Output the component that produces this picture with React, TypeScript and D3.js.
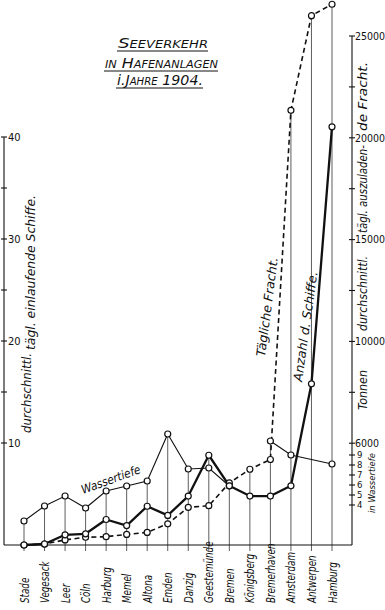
import React, { useEffect, useRef } from "react";
import * as d3 from "d3";

// ports, left to right
const categories = [
  "Stade", "Vegesack", "Leer", "Cöln", "Harburg", "Memel", "Altona", "Emden",
  "Danzig", "Geestemünde", "Bremen", "Königsberg", "Bremerhaven", "Amsterdam",
  "Antwerpen", "Hamburg",
];

// durchschnittl. tägl. einlaufende Schiffe (left axis)
const schiffe = [0, 0.1, 1.0, 1.1, 2.5, 1.9, 3.8, 2.9, 4.8, 8.8, 5.8, 4.8, 4.8, 5.8, 15.8, 41.0];

// tägl. auszuladende Fracht in Tonnen (right axis)
const fracht = [0, 50, 250, 380, 410, 520, 620, 1040, 1850, 1930, 3050, 3720, 4200, 21350, 26000, 26560];

// Wassertiefe in m (small scale on the right)
const wassertiefe: (number | null)[] = [2.4, 3.9, 4.9, 3.7, 5.4, 5.9, 6.4, 11.1, 7.6, 7.7, 5.9, null, 10.4, 9.0, null, 8.1];
const wasserBreakAfter = "Bremen";

const shipTicks = [10, 20, 30, 40];
const shipMinorTicks = [15, 25, 35];
const frachtTicks = [5000, 10000, 15000, 20000, 25000];
const frachtTickLabels = ["6000", "10000", "15000", "20000", "25000"];
const frachtMinorTicks = [7500, 12500, 17500, 22500];
const depthTicks = [4, 5, 6, 7, 8, 9];

const titleLines = ["Seeverkehr", "in Hafenanlagen", "i.Jahre 1904."];

const FONT = "'DejaVu Sans Condensed', 'DejaVu Sans', sans-serif";
const INK = "#111";

export default function App() {
  const ref = useRef<SVGSVGElement>(null);

  useEffect(() => {
    const svg = d3.select(ref.current);
    svg.selectAll("*").remove();

    const left = 4, right = 352, base = 545;

    const x = d3.scalePoint<string>().domain(categories).range([24, 332]);
    const yShips = d3.scaleLinear().domain([0, 40]).range([base, 137]);
    const yFracht = d3.scaleLinear().domain([0, 25000]).range([base, 36]);
    const yDepth = d3.scaleLinear().domain([0, 9]).range([base, 455]);

    svg.append("rect").attr("width", 385).attr("height", 610).attr("fill", "#fff");

    // title
    const title = svg.append("g").attr("font-family", FONT).attr("font-style", "italic").attr("fill", INK);
    const titleBox = [
      { x0: 118, x1: 208, y: 48 },
      { x0: 105, x1: 218, y: 68 },
      { x0: 117, x1: 203, y: 85 },
    ];
    titleLines.forEach((line, i) => {
      const b = titleBox[i];
      const t = title.append("text")
        .attr("x", b.x0).attr("y", b.y)
        .attr("font-size", 14)
        .attr("textLength", b.x1 - b.x0)
        .attr("lengthAdjust", "spacingAndGlyphs");
      if (line.startsWith("i.")) {
        t.append("tspan").text("i.");
        t.append("tspan").style("font-variant", "small-caps").text(line.slice(2));
      } else {
        t.style("font-variant", "small-caps").text(line);
      }
      title.append("line")
        .attr("x1", b.x0 - 1).attr("x2", b.x1)
        .attr("y1", b.y + 3).attr("y2", b.y + 3)
        .attr("stroke", INK).attr("stroke-width", 1);
    });

    // vertical lines per port, up to the highest point
    const tops = categories.map((c, i) => {
      const ys = [yShips(schiffe[i]), yFracht(fracht[i])];
      if (wassertiefe[i] != null) ys.push(yDepth(wassertiefe[i] as number));
      return d3.min(ys) as number;
    });
    svg.append("g")
      .selectAll("line")
      .data(categories)
      .enter()
      .append("line")
      .attr("x1", d => x(d)!).attr("x2", d => x(d)!)
      .attr("y1", base + 6)
      .attr("y2", (d, i) => tops[i])
      .attr("stroke", "#333").attr("stroke-width", 0.8);

    // axes
    const axes = svg.append("g").attr("stroke", INK).attr("stroke-width", 1.1);
    axes.append("line").attr("x1", left).attr("x2", right).attr("y1", base).attr("y2", base);
    axes.append("line").attr("x1", left).attr("x2", left).attr("y1", base).attr("y2", yShips(40));
    axes.append("line").attr("x1", right).attr("x2", right).attr("y1", base).attr("y2", yFracht(25000));

    const tickLines = (vals: number[], scale: d3.ScaleLinear<number, number>, cx: number) =>
      axes.append("g").selectAll("line").data(vals).enter().append("line")
        .attr("x1", cx - 3).attr("x2", cx + 3)
        .attr("y1", d => scale(d)).attr("y2", d => scale(d));
    tickLines(shipTicks, yShips, left);
    tickLines(shipMinorTicks, yShips, left);
    tickLines(frachtTicks, yFracht, right);
    tickLines(frachtMinorTicks, yFracht, right);
    tickLines(depthTicks, yDepth, right);

    const labels = svg.append("g").attr("font-family", FONT).attr("fill", INK);
    labels.append("g").selectAll("text").data(shipTicks).enter().append("text")
      .attr("x", left + 4).attr("y", d => yShips(d)).attr("dy", "0.36em")
      .attr("font-size", 11).text(d => d);
    labels.append("g").selectAll("text").data(frachtTicks).enter().append("text")
      .attr("x", right + 3).attr("y", d => yFracht(d)).attr("dy", "0.36em")
      .attr("font-size", 10.5).text((d, i) => frachtTickLabels[i]);
    labels.append("g").selectAll("text").data(depthTicks).enter().append("text")
      .attr("x", right + 5).attr("y", d => yDepth(d)).attr("dy", "0.36em")
      .attr("font-size", 9.5).text(d => d);

    // category labels, narrow hand lettering
    labels.append("g").selectAll("text").data(categories).enter().append("text")
      .attr("transform", d => `translate(${x(d)},603) rotate(-90) scale(0.78,1)`)
      .attr("dy", "0.36em")
      .attr("font-size", 12.5).attr("font-style", "italic")
      .text(d => d);

    // series
    const fLine = d3.line<number>().x((d, i) => x(categories[i])!).y(d => yFracht(d));
    svg.append("path").datum(fracht).attr("d", fLine)
      .attr("fill", "none").attr("stroke", INK).attr("stroke-width", 1.6)
      .attr("stroke-dasharray", "5,3.5");

    const breakIdx = categories.indexOf(wasserBreakAfter);
    const wPts = categories
      .map((c, i) => ({ c, i, v: wassertiefe[i] }))
      .filter(p => p.v != null);
    const wSegments = [wPts.filter(p => p.i <= breakIdx), wPts.filter(p => p.i > breakIdx)];
    const wLine = d3.line<{ c: string; v: number | null }>().x(p => x(p.c)!).y(p => yDepth(p.v as number));
    svg.append("g").selectAll("path").data(wSegments).enter().append("path")
      .attr("d", d => wLine(d))
      .attr("fill", "none").attr("stroke", INK).attr("stroke-width", 1.1);

    const sLine = d3.line<number>().x((d, i) => x(categories[i])!).y(d => yShips(d));
    svg.append("path").datum(schiffe).attr("d", sLine)
      .attr("fill", "none").attr("stroke", INK).attr("stroke-width", 2.3)
      .attr("stroke-linejoin", "round");

    // markers
    const dots = svg.append("g").attr("fill", "#fff").attr("stroke", INK).attr("stroke-width", 1.2);
    dots.selectAll(".f").data(fracht).enter().append("circle")
      .attr("cx", (d, i) => x(categories[i])!).attr("cy", d => yFracht(d)).attr("r", 3);
    dots.selectAll(".w").data(wPts).enter().append("circle")
      .attr("cx", p => x(p.c)!).attr("cy", p => yDepth(p.v as number)).attr("r", 3);
    dots.selectAll(".s").data(schiffe).enter().append("circle")
      .attr("cx", (d, i) => x(categories[i])!).attr("cy", d => yShips(d)).attr("r", 3);

    // rotated annotations
    const notes = [
      { t: "Wassertiefe", x: 83, y: 494, r: -20, len: 62, fs: 12 },
      { t: "Tägliche Fracht.", x: 265, y: 357, r: -82.6, len: 100, fs: 12.5 },
      { t: "Anzahl d. Schiffe.", x: 302, y: 382, r: -82, len: 111, fs: 12.5 },
      { t: "durchschnittl.", x: 31, y: 433, r: -90, len: 80, fs: 12 },
      { t: "tägl. einlaufende Schiffe.", x: 35, y: 350, r: -90, len: 155, fs: 12 },
      { t: "Tonnen", x: 367, y: 410, r: -90, len: 40, fs: 12 },
      { t: "durchschnittl.", x: 367, y: 331, r: -90, len: 75, fs: 12 },
      { t: "tägl. auszuladen-", x: 367, y: 233, r: -90, len: 88, fs: 12 },
      { t: "de Fracht.", x: 367, y: 131, r: -90, len: 69, fs: 12 },
      { t: "in Wassertiefe", x: 375, y: 513, r: -90, len: 60, fs: 9.5 },
    ];
    labels.append("g").selectAll("text").data(notes).enter().append("text")
      .attr("transform", d => `translate(${d.x},${d.y}) rotate(${d.r})`)
      .attr("font-size", d => d.fs).attr("font-style", "italic")
      .attr("textLength", d => d.len).attr("lengthAdjust", "spacingAndGlyphs")
      .text(d => d.t);
  }, []);

  return (
    <svg
      ref={ref}
      width={385}
      height={610}
      style={{ position: "absolute", left: 0, top: 0, display: "block" }}
    />
  );
}
